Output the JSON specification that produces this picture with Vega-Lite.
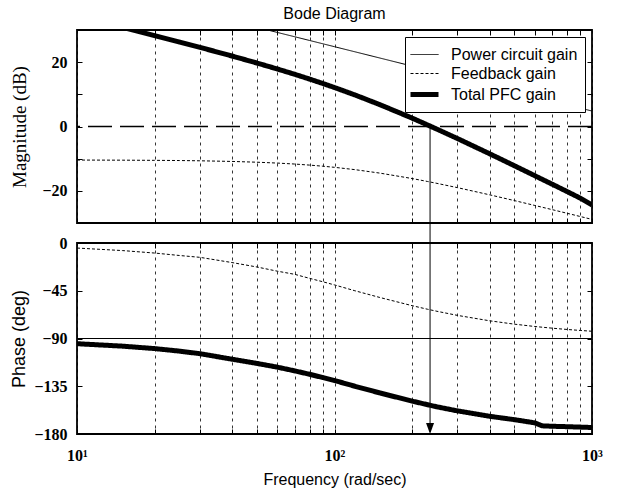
{
  "$schema": "https://vega.github.io/schema/vega-lite/v6.json",
  "background": "white",
  "padding": {"left": 9, "top": 4, "right": 5, "bottom": 2},
  "spacing": 20,
  "bounds": "flush",
  "config": {
    "view": {"stroke": "black", "strokeWidth": 1.8},
    "axis": {
      "domain": false,
      "tickColor": "black",
      "tickSize": -5,
      "tickWidth": 1,
      "labelColor": "black",
      "titleColor": "black",
      "labelFont": "Liberation Serif",
      "labelFontWeight": "bold",
      "labelFontSize": 16,
      "labelFlush": false,
      "labelOverlap": false,
      "gridColor": "black",
      "gridDash": [3, 4],
      "gridWidth": 0.8,
      "gridOpacity": 1
    },
    "legend": {
      "orient": "top-right",
      "offset": 7,
      "fillColor": "white",
      "strokeColor": "black",
      "padding": 7,
      "symbolType": "M-1.4,0L1.4,0",
      "symbolSize": 400,
      "symbolStrokeColor": "black",
      "labelFont": "Liberation Sans",
      "labelFontSize": 16,
      "labelColor": "black",
      "labelOffset": 14,
      "rowPadding": 0
    }
  },
  "datasets": {
    "mag": [
      {"f": 10, "series": "Power circuit gain", "value": 44.81},
      {"f": 20, "series": "Power circuit gain", "value": 38.79},
      {"f": 30, "series": "Power circuit gain", "value": 35.27},
      {"f": 40, "series": "Power circuit gain", "value": 32.77},
      {"f": 50, "series": "Power circuit gain", "value": 30.83},
      {"f": 60, "series": "Power circuit gain", "value": 29.24},
      {"f": 70, "series": "Power circuit gain", "value": 27.91},
      {"f": 80, "series": "Power circuit gain", "value": 26.75},
      {"f": 100, "series": "Power circuit gain", "value": 24.81},
      {"f": 150, "series": "Power circuit gain", "value": 21.29},
      {"f": 200, "series": "Power circuit gain", "value": 18.79},
      {"f": 300, "series": "Power circuit gain", "value": 15.27},
      {"f": 400, "series": "Power circuit gain", "value": 12.77},
      {"f": 500, "series": "Power circuit gain", "value": 10.83},
      {"f": 600, "series": "Power circuit gain", "value": 9.24},
      {"f": 700, "series": "Power circuit gain", "value": 7.91},
      {"f": 800, "series": "Power circuit gain", "value": 6.75},
      {"f": 900, "series": "Power circuit gain", "value": 5.72},
      {"f": 1000, "series": "Power circuit gain", "value": 4.81},
      {"f": 10, "series": "Feedback gain", "value": -10.43},
      {"f": 15, "series": "Feedback gain", "value": -10.47},
      {"f": 20, "series": "Feedback gain", "value": -10.52},
      {"f": 25, "series": "Feedback gain", "value": -10.58},
      {"f": 30, "series": "Feedback gain", "value": -10.66},
      {"f": 40, "series": "Feedback gain", "value": -10.86},
      {"f": 50, "series": "Feedback gain", "value": -11.1},
      {"f": 60, "series": "Feedback gain", "value": -11.37},
      {"f": 70, "series": "Feedback gain", "value": -11.67},
      {"f": 80, "series": "Feedback gain", "value": -12.0},
      {"f": 90, "series": "Feedback gain", "value": -12.34},
      {"f": 100, "series": "Feedback gain", "value": -12.69},
      {"f": 120, "series": "Feedback gain", "value": -13.41},
      {"f": 150, "series": "Feedback gain", "value": -14.49},
      {"f": 200, "series": "Feedback gain", "value": -16.17},
      {"f": 230, "series": "Feedback gain", "value": -17.1},
      {"f": 250, "series": "Feedback gain", "value": -17.68},
      {"f": 300, "series": "Feedback gain", "value": -19.0},
      {"f": 400, "series": "Feedback gain", "value": -21.23},
      {"f": 500, "series": "Feedback gain", "value": -23.04},
      {"f": 600, "series": "Feedback gain", "value": -24.55},
      {"f": 700, "series": "Feedback gain", "value": -25.84},
      {"f": 800, "series": "Feedback gain", "value": -26.97},
      {"f": 900, "series": "Feedback gain", "value": -27.98},
      {"f": 1000, "series": "Feedback gain", "value": -28.88},
      {"f": 10, "series": "Total PFC gain", "value": 34.38},
      {"f": 12, "series": "Total PFC gain", "value": 32.78},
      {"f": 15, "series": "Total PFC gain", "value": 30.82},
      {"f": 17, "series": "Total PFC gain", "value": 29.71},
      {"f": 20, "series": "Total PFC gain", "value": 28.27},
      {"f": 25, "series": "Total PFC gain", "value": 26.27},
      {"f": 30, "series": "Total PFC gain", "value": 24.61},
      {"f": 40, "series": "Total PFC gain", "value": 21.91},
      {"f": 50, "series": "Total PFC gain", "value": 19.73},
      {"f": 60, "series": "Total PFC gain", "value": 17.87},
      {"f": 70, "series": "Total PFC gain", "value": 16.24},
      {"f": 80, "series": "Total PFC gain", "value": 14.75},
      {"f": 90, "series": "Total PFC gain", "value": 13.38},
      {"f": 100, "series": "Total PFC gain", "value": 12.12},
      {"f": 120, "series": "Total PFC gain", "value": 9.81},
      {"f": 150, "series": "Total PFC gain", "value": 6.8},
      {"f": 200, "series": "Total PFC gain", "value": 2.62},
      {"f": 230, "series": "Total PFC gain", "value": 0.47},
      {"f": 250, "series": "Total PFC gain", "value": -0.83},
      {"f": 300, "series": "Total PFC gain", "value": -3.73},
      {"f": 400, "series": "Total PFC gain", "value": -8.46},
      {"f": 500, "series": "Total PFC gain", "value": -12.21},
      {"f": 600, "series": "Total PFC gain", "value": -15.31},
      {"f": 700, "series": "Total PFC gain", "value": -17.93},
      {"f": 800, "series": "Total PFC gain", "value": -20.22},
      {"f": 900, "series": "Total PFC gain", "value": -22.26},
      {"f": 1000, "series": "Total PFC gain", "value": -24.4}
    ],
    "phase": [
      {"f": 10, "series": "Power circuit gain", "value": -90},
      {"f": 1000, "series": "Power circuit gain", "value": -90},
      {"f": 10, "series": "Feedback gain", "value": -4.76},
      {"f": 15, "series": "Feedback gain", "value": -7.13},
      {"f": 20, "series": "Feedback gain", "value": -9.46},
      {"f": 25, "series": "Feedback gain", "value": -11.77},
      {"f": 30, "series": "Feedback gain", "value": -13.5},
      {"f": 40, "series": "Feedback gain", "value": -18.43},
      {"f": 50, "series": "Feedback gain", "value": -22.62},
      {"f": 60, "series": "Feedback gain", "value": -26.57},
      {"f": 70, "series": "Feedback gain", "value": -29.5},
      {"f": 80, "series": "Feedback gain", "value": -33.3},
      {"f": 90, "series": "Feedback gain", "value": -36.5},
      {"f": 100, "series": "Feedback gain", "value": -39.5},
      {"f": 120, "series": "Feedback gain", "value": -45.0},
      {"f": 150, "series": "Feedback gain", "value": -51.34},
      {"f": 200, "series": "Feedback gain", "value": -59.04},
      {"f": 230, "series": "Feedback gain", "value": -62.45},
      {"f": 250, "series": "Feedback gain", "value": -64.36},
      {"f": 300, "series": "Feedback gain", "value": -68.2},
      {"f": 400, "series": "Feedback gain", "value": -73.3},
      {"f": 500, "series": "Feedback gain", "value": -76.5},
      {"f": 600, "series": "Feedback gain", "value": -78.69},
      {"f": 700, "series": "Feedback gain", "value": -80.27},
      {"f": 800, "series": "Feedback gain", "value": -81.47},
      {"f": 900, "series": "Feedback gain", "value": -82.41},
      {"f": 1000, "series": "Feedback gain", "value": -83.16},
      {"f": 10, "series": "Total PFC gain", "value": -94.9},
      {"f": 15, "series": "Total PFC gain", "value": -97.2},
      {"f": 20, "series": "Total PFC gain", "value": -99.5},
      {"f": 25, "series": "Total PFC gain", "value": -101.9},
      {"f": 30, "series": "Total PFC gain", "value": -104.3},
      {"f": 40, "series": "Total PFC gain", "value": -109.5},
      {"f": 50, "series": "Total PFC gain", "value": -113.5},
      {"f": 60, "series": "Total PFC gain", "value": -117.0},
      {"f": 70, "series": "Total PFC gain", "value": -120.5},
      {"f": 80, "series": "Total PFC gain", "value": -123.7},
      {"f": 90, "series": "Total PFC gain", "value": -126.8},
      {"f": 100, "series": "Total PFC gain", "value": -129.6},
      {"f": 120, "series": "Total PFC gain", "value": -135.0},
      {"f": 150, "series": "Total PFC gain", "value": -141.3},
      {"f": 200, "series": "Total PFC gain", "value": -149.0},
      {"f": 230, "series": "Total PFC gain", "value": -152.4},
      {"f": 250, "series": "Total PFC gain", "value": -154.4},
      {"f": 300, "series": "Total PFC gain", "value": -158.2},
      {"f": 400, "series": "Total PFC gain", "value": -163.3},
      {"f": 500, "series": "Total PFC gain", "value": -166.5},
      {"f": 600, "series": "Total PFC gain", "value": -169.5},
      {"f": 640, "series": "Total PFC gain", "value": -172.3},
      {"f": 700, "series": "Total PFC gain", "value": -172.7},
      {"f": 800, "series": "Total PFC gain", "value": -173.1},
      {"f": 900, "series": "Total PFC gain", "value": -173.5},
      {"f": 1000, "series": "Total PFC gain", "value": -173.9}
    ],
    "marker": [
      {"f": 235, "magTop": 0, "magBottom": -36.2, "phaseTop": 0, "phaseBottom": -178, "tip": -180}
    ],
    "zero": [
      {"level": 0}
    ]
  },
  "resolve": {"scale": {"strokeDash": "independent", "strokeWidth": "independent"}},
  "vconcat": [
    {
      "width": 515,
      "height": 193,
      "title": {"text": "Bode Diagram", "font": "Liberation Sans", "fontSize": 16, "fontWeight": "normal", "color": "black", "anchor": "middle", "frame": "group", "offset": 8},
      "resolve": {"axis": {"x": "independent", "y": "independent"}},
      "layer": [
        {
          "data": {"name": "mag"},
          "mark": {"type": "line", "clip": true, "color": "black"},
          "encoding": {
            "x": {
              "field": "f", "type": "quantitative",
              "scale": {"type": "log", "domain": [10, 1000], "nice": false},
              "axis": {"values": [10, 20, 30, 40, 50, 60, 70, 80, 90, 100, 200, 300, 400, 500, 600, 700, 800, 900, 1000], "labels": false, "title": null, "grid": true}
            },
            "y": {
              "field": "value", "type": "quantitative",
              "scale": {"domain": [-30, 30], "nice": false, "zero": false},
              "axis": {"values": [-20, -10, 0, 10, 20], "labelExpr": "datum.value % 20 == 0 ? datum.label : ''", "grid": false, "title": "Magnitude (dB)", "titleFont": "Liberation Serif", "titleFontSize": 19, "titleFontWeight": "normal", "titleX": -58, "titleBaseline": "middle", "labelPadding": 15}
            },
            "strokeDash": {
              "field": "series", "type": "nominal",
              "scale": {"type": "ordinal", "domain": ["Power circuit gain", "Feedback gain", "Total PFC gain"], "range": [[1, 0], [3, 2], [1, 0]]},
              "legend": {"title": null}
            },
            "strokeWidth": {
              "field": "series", "type": "nominal",
              "scale": {"type": "ordinal", "domain": ["Power circuit gain", "Feedback gain", "Total PFC gain"], "range": [1, 1, 5]},
              "legend": {"title": null}
            }
          }
        },
        {
          "data": {"name": "zero"},
          "mark": {"type": "rule", "strokeDash": [24, 8], "strokeWidth": 1.5, "color": "black"},
          "encoding": {"y": {"field": "level", "type": "quantitative", "axis": null}}
        },
        {
          "data": {"name": "marker"},
          "mark": {"type": "rule", "clip": false, "color": "black", "strokeWidth": 1},
          "encoding": {
            "x": {"field": "f", "type": "quantitative", "axis": {"orient": "top", "values": [20, 30, 40, 50, 60, 70, 80, 90, 100, 200, 300, 400, 500, 600, 700, 800, 900], "labels": false, "title": null, "grid": false}},
            "y": {"field": "magTop", "type": "quantitative", "axis": {"orient": "right", "values": [-20, -10, 0, 10, 20], "labels": false, "title": null, "grid": false}},
            "y2": {"field": "magBottom"}
          }
        }
      ]
    },
    {
      "width": 515,
      "height": 191,
      "resolve": {"axis": {"x": "independent", "y": "independent"}},
      "layer": [
        {
          "data": {"name": "phase"},
          "mark": {"type": "line", "clip": true, "color": "black"},
          "encoding": {
            "x": {
              "field": "f", "type": "quantitative",
              "scale": {"type": "log", "domain": [10, 1000], "nice": false},
              "axis": {"values": [10, 20, 30, 40, 50, 60, 70, 80, 90, 100, 200, 300, 400, 500, 600, 700, 800, 900, 1000], "labelExpr": "datum.value == 10 ? '10¹' : datum.value == 100 ? '10²' : datum.value == 1000 ? '10³' : ''", "grid": true, "title": "Frequency (rad/sec)", "titleFont": "Liberation Sans", "titleFontSize": 16, "titleFontWeight": "normal", "labelPadding": 18, "titlePadding": 8}
            },
            "y": {
              "field": "value", "type": "quantitative",
              "scale": {"domain": [-180, 0], "nice": false, "zero": false},
              "axis": {"values": [-180, -135, -90, -45, 0], "grid": false, "title": "Phase (deg)", "titleFont": "Liberation Sans", "titleFontSize": 18, "titleFontWeight": "normal", "titleX": -58, "titleBaseline": "middle", "labelPadding": 15}
            },
            "strokeDash": {
              "field": "series", "type": "nominal",
              "scale": {"type": "ordinal", "domain": ["Power circuit gain", "Feedback gain", "Total PFC gain"], "range": [[1, 0], [3, 2], [1, 0]]},
              "legend": null
            },
            "strokeWidth": {
              "field": "series", "type": "nominal",
              "scale": {"type": "ordinal", "domain": ["Power circuit gain", "Feedback gain", "Total PFC gain"], "range": [1, 1, 5]},
              "legend": null
            }
          }
        },
        {
          "data": {"name": "marker"},
          "mark": {"type": "rule", "clip": false, "color": "black", "strokeWidth": 1},
          "encoding": {
            "x": {"field": "f", "type": "quantitative", "axis": {"orient": "top", "values": [20, 30, 40, 50, 60, 70, 80, 90, 100, 200, 300, 400, 500, 600, 700, 800, 900], "labels": false, "title": null, "grid": false}},
            "y": {"field": "phaseTop", "type": "quantitative", "axis": {"orient": "right", "values": [-180, -135, -90, -45, 0], "labels": false, "title": null, "grid": false}},
            "y2": {"field": "phaseBottom"}
          }
        },
        {
          "data": {"name": "marker"},
          "mark": {"type": "point", "shape": "M-0.8,-2.2L0.8,-2.2L0,0Z", "size": 100, "filled": true, "color": "black", "opacity": 1, "clip": false},
          "encoding": {
            "x": {"field": "f", "type": "quantitative", "axis": null},
            "y": {"field": "tip", "type": "quantitative", "axis": null}
          }
        }
      ]
    }
  ]
}
